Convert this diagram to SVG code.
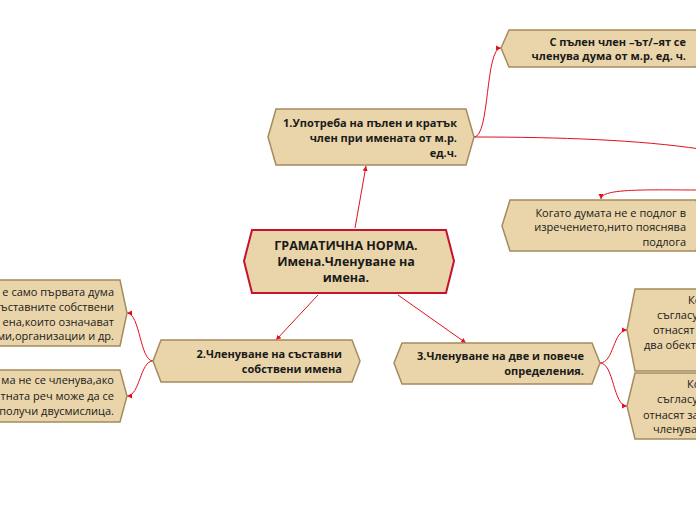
<svg xmlns="http://www.w3.org/2000/svg" width="696" height="520" viewBox="0 0 696 520">
<style>
.n{fill:#e9d5a9;stroke:#a48b5f;stroke-width:1.5}
.c{fill:#e9d5a9;stroke:#c4122f;stroke-width:2}
text{font-family:"Open Sans","Noto Sans","Liberation Sans",sans-serif;font-size:11px;fill:#1a1a1a}
.b{font-weight:bold}
.e{text-anchor:end}
.m{text-anchor:middle}
.l{fill:none;stroke:#e3101c;stroke-width:1}
</style>
<defs>
<marker id="a" markerWidth="6" markerHeight="6" refX="5" refY="3" orient="auto" markerUnits="userSpaceOnUse">
<path d="M0,0.5 L5,3 L0,5.5 Z" fill="#e3101c"/>
</marker>
</defs>
<rect width="696" height="520" fill="#ffffff"/>
<g id="connectors">
<path class="l" d="M355,228 L366,166" marker-end="url(#a)"/>
<path class="l" d="M318,295 L276,340" marker-end="url(#a)"/>
<path class="l" d="M398,295 L466,343" marker-end="url(#a)"/>
<path class="l" d="M474,137 C490,137 485,48 501,48" marker-end="url(#a)"/>
<path class="l" d="M474,137 C560,137 640,140 700,149"/>
<path class="l" d="M700,190 C650,190 601,188 601,199" marker-end="url(#a)"/>
<path class="l" d="M153,361 C140,361 140,313 127,313" marker-end="url(#a)"/>
<path class="l" d="M153,361 C140,361 140,396 127,396" marker-end="url(#a)"/>
<path class="l" d="M600,363 C614,363 613,330 627,330" marker-end="url(#a)"/>
<path class="l" d="M600,363 C614,363 613,406 627,406" marker-end="url(#a)"/>
</g>
<g id="central">
<polygon class="c" points="244,261 252,230 446,230 454,261 446,293 252,293"/>
<text class="b m" x="346" y="250" style="font-size:12.5px">ГРАМАТИЧНА НОРМА.</text>
<text class="b m" x="346" y="266" style="font-size:12.5px">Имена.Членуване на</text>
<text class="b m" x="346" y="282" style="font-size:12.5px">имена.</text>
</g>
<g id="node1">
<polygon class="n" points="268,137 276,109 466,109 474,137 466,165 276,165"/>
<text class="b e" x="457" y="127">1.Употреба на пълен и кратък</text>
<text class="b e" x="457" y="142">член при имената от м.р.</text>
<text class="b e" x="457" y="157">ед.ч.</text>
</g>
<g id="node1a">
<polygon class="n" points="501,48 509,30 696,30 704,48 696,67 509,67"/>
<text class="b e" x="686" y="46">С пълен член –ът/–ят се</text>
<text class="b e" x="686" y="60">членува дума от м.р. ед. ч.</text>
</g>
<g id="node1b">
<polygon class="n" points="502,226 510,200 696,200 704,226 696,251 510,251"/>
<text class="e" x="686" y="217">Когато думата не е подлог в</text>
<text class="e" x="686" y="231">изречението,нито пояснява</text>
<text class="e" x="686" y="246">подлога</text>
</g>
<g id="node2">
<polygon class="n" points="153,361 161,340 352,340 360,361 352,382 161,382"/>
<text class="b e" x="342" y="358">2.Членуване на съставни</text>
<text class="b e" x="342" y="373">собствени имена</text>
</g>
<g id="node2a">
<polygon class="n" points="-8,280 120,280 127,313 120,346 -8,346"/>
<text class="e" x="114" y="296">е само първата дума</text>
<text class="e" x="114" y="311">ъставните собствени</text>
<text class="e" x="114" y="326">ена,които означават</text>
<text class="e" x="114" y="340">ими,организации и др.</text>
</g>
<g id="node2b">
<polygon class="n" points="-8,370 120,370 127,396 120,422 -8,422"/>
<text class="e" x="114" y="384">ма не се членува,ако</text>
<text class="e" x="114" y="400">тната реч може да се</text>
<text class="e" x="114" y="415">получи двусмислица.</text>
</g>
<g id="node3">
<polygon class="n" points="394,363 402,343 592,343 600,363 592,384 402,384"/>
<text class="b e" x="584" y="360">3.Членуване на две и повече</text>
<text class="b e" x="584" y="375">определения.</text>
</g>
<g id="node3a">
<polygon class="n" points="627,330 635,289 704,289 704,371 635,371"/>
<text x="688" y="304">Ко</text>
<text x="657" y="319">съгласу</text>
<text x="653" y="334">отнасят</text>
<text x="644" y="349">два обект</text>
</g>
<g id="node3b">
<polygon class="n" points="627,406 635,373 704,373 704,439 635,439"/>
<text x="687" y="388">Ко</text>
<text x="657" y="403">съгласу</text>
<text x="643" y="419">отнасят за</text>
<text x="653" y="433">членува</text>
</g>
</svg>
